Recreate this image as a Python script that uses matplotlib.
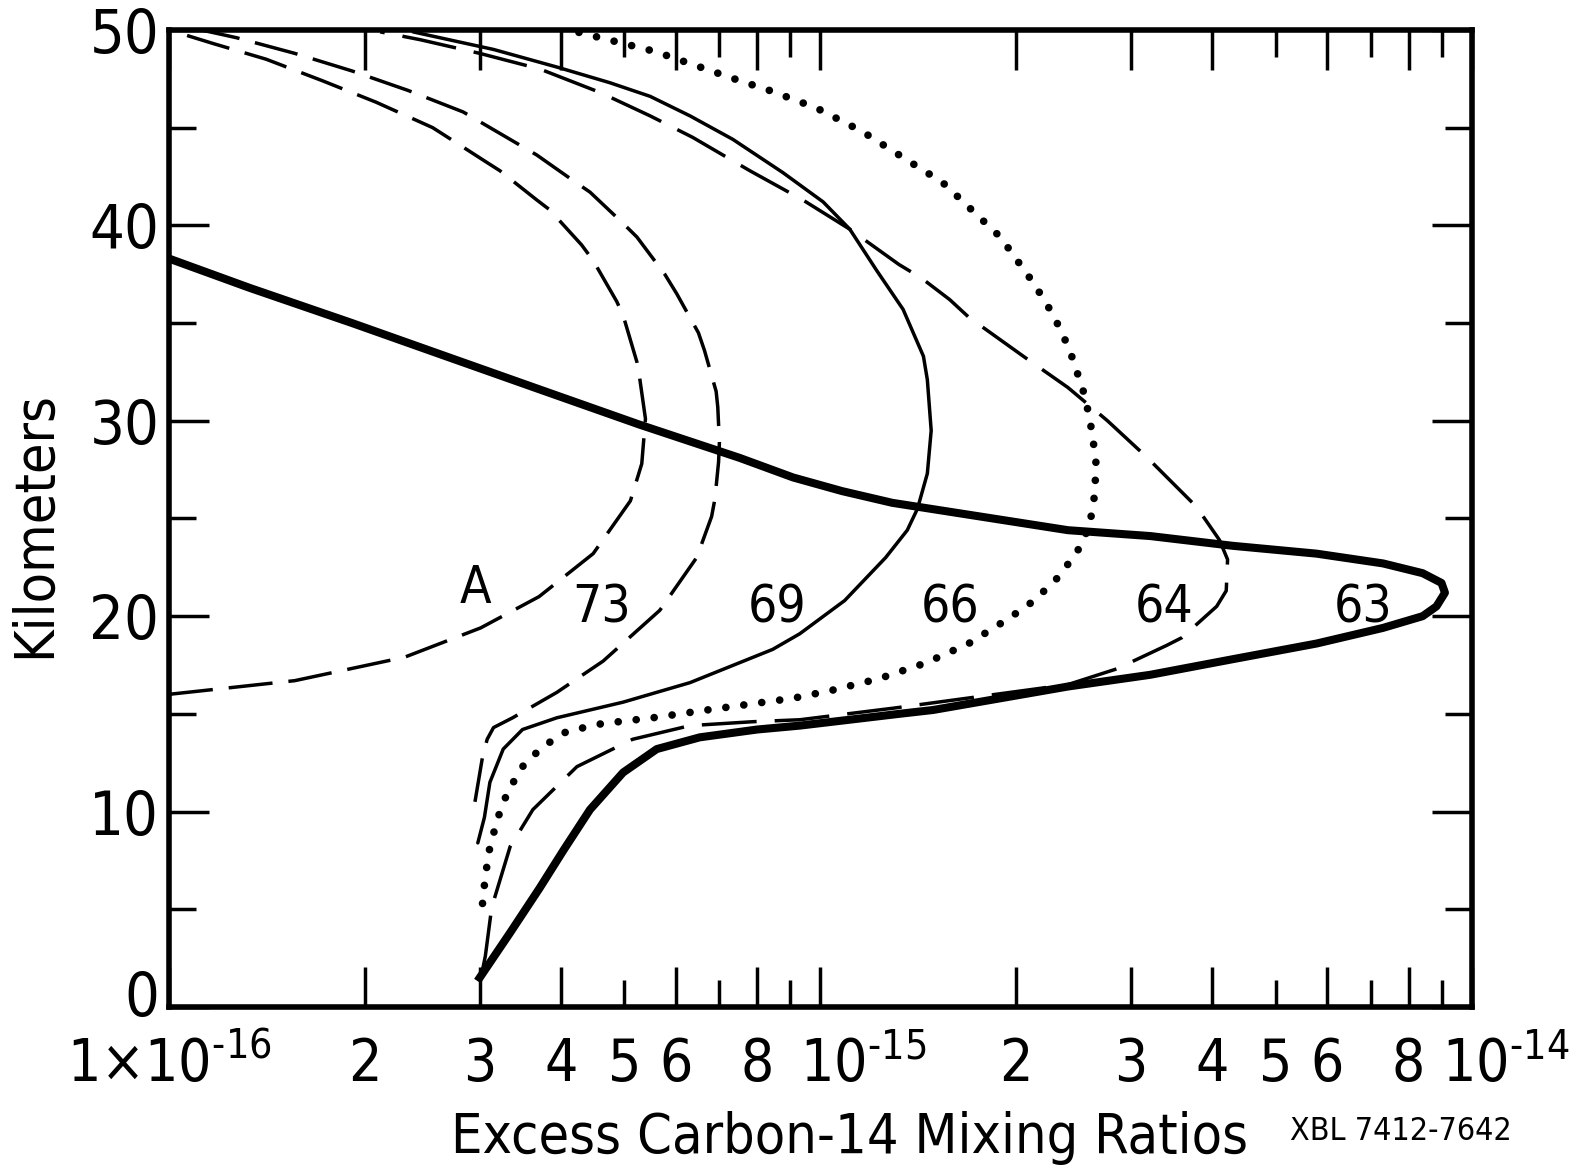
import matplotlib
matplotlib.use("Agg")
import matplotlib.pyplot as plt
import matplotlib.transforms as mtransforms
import numpy as np

plt.rcParams['font.family'] = ['DejaVu Sans']
plt.rcParams['font.stretch'] = 'condensed'
plt.rcParams['mathtext.fontset'] = 'custom'
plt.rcParams['mathtext.rm'] = 'DejaVu Sans:stretch=condensed'

# mixing ratios in units of 1e-16, altitude in km
x_a = [1.0, 1.56, 2.30, 3.01, 3.70, 4.48, 5.11, 5.32, 5.39, 5.28, 5.23, 4.98, 4.87, 4.48, 4.30, 3.84, 3.67, 3.22, 3.05,
       2.86, 2.54, 2.08, 1.72, 1.41, 1.17, 1.0]
km_a = [16.0, 16.7, 17.9, 19.4, 21.0, 23.2, 25.9, 27.8, 30.1, 32.2, 33.0, 35.4, 36.1, 38.2, 39.0, 40.8, 41.3, 42.8, 43.3,
        43.9, 45.0, 46.3, 47.4, 48.5, 49.3, 50.0]

x_73 = [2.95, 3.03, 3.08, 3.15, 3.37, 3.94, 4.64, 5.67, 6.46, 6.81, 6.89, 6.98, 7.0, 6.96, 6.92, 6.64, 6.5, 6.02, 5.77, 5.23,
        4.98, 4.43, 4.17, 3.67, 3.46, 2.83, 2.33, 1.91, 1.56, 1.27, 1.12]
km_73 = [10.5, 12.8, 13.7, 14.3, 14.8, 16.1, 17.7, 20.3, 23.0, 25.1, 26.0, 27.9, 28.9, 30.7, 31.5, 33.6, 34.5, 36.5, 37.5, 39.4,
         40.1, 41.7, 42.3, 43.6, 44.1, 45.8, 46.9, 47.9, 48.8, 49.6, 50.0]

x_69 = [2.98, 3.05, 3.11, 3.26, 3.49, 3.94, 4.98, 6.31, 8.45, 9.3, 10.9, 12.6, 13.6, 14.1, 14.6, 14.8, 14.6, 14.4, 13.4, 12.2,
        11.1, 10.1, 8.76, 7.34, 6.31, 5.48, 4.75, 3.94, 3.15, 2.37]
km_69 = [8.4, 9.7, 11.5, 13.2, 14.2, 14.8, 15.6, 16.6, 18.3, 19.1, 20.8, 23.0, 24.4, 25.5, 27.3, 29.5, 32.1, 33.3, 35.7, 37.7,
         39.8, 41.2, 42.7, 44.4, 45.6, 46.6, 47.3, 48.1, 49.0, 49.9]

x_66 = [3.03, 3.06, 3.11, 3.2, 3.31, 3.49, 3.74, 4.08, 4.62, 5.53, 6.70, 9.08, 10.4, 12.3, 14.5, 16.9, 19.5, 21.3, 23.2, 24.8,
        25.9, 26.4, 26.5, 25.9, 25.3, 24.1, 22.8, 21.3, 18.9, 16.1, 15.4, 13.8, 11.6, 9.87, 8.36, 7.52, 5.57, 4.23]
km_66 = [5.3, 6.7, 8.2, 9.7, 11.0, 12.3, 13.3, 14.1, 14.5, 14.8, 15.2, 15.8, 16.2, 16.8, 17.6, 18.6, 19.9, 20.8, 22.0, 23.3,
         24.6, 26.3, 28.0, 30.2, 31.6, 33.7, 35.4, 37.0, 39.4, 41.6, 42.2, 43.2, 44.8, 46.0, 46.9, 47.4, 48.9, 49.9]

x_64 = [3.03, 3.06, 3.13, 3.34, 3.62, 4.23, 5.15, 6.31, 7.88, 9.3, 13.0, 24.0, 28.5, 34.0, 35.9, 40.6, 42.0, 42.2, 41.0, 37.8,
        31.8, 27.6, 24.0, 20.5, 16.9, 15.8, 14.3, 13.2, 11.1, 9.4, 7.79, 6.37, 5.48, 4.59, 3.71, 3.0, 2.43, 2.11]
km_64 = [1.9, 2.6, 5.1, 8.2, 10.1, 12.3, 13.7, 14.4, 14.6, 14.7, 15.3, 16.5, 17.3, 18.5, 18.9, 20.5, 21.3, 22.9, 23.9, 25.6,
         28.1, 30.0, 31.7, 33.3, 35.3, 36.2, 37.3, 38.0, 39.8, 41.3, 42.8, 44.5, 45.6, 46.8, 48.0, 48.8, 49.5, 49.9]

x_63 = [3.0, 3.34, 3.71, 4.03, 4.43, 4.98, 5.61, 6.53, 8.0, 9.3, 13.2, 14.9, 24.0, 32.1, 43.0, 57.8, 73.1, 84.1, 88.3, 91.0,
        89.9, 84.1, 73.1, 57.8, 43.0, 32.1, 24.0, 17.6, 14.1, 12.9, 10.8, 9.08, 7.52, 5.28, 3.71, 2.61, 1.91, 1.33, 1.0]
km_63 = [1.5, 3.8, 6.1, 8.0, 10.1, 12.0, 13.2, 13.8, 14.2, 14.4, 15.0, 15.2, 16.4, 17.0, 17.8, 18.6, 19.4, 20.0, 20.5, 21.2,
         21.7, 22.2, 22.7, 23.2, 23.6, 24.1, 24.4, 25.1, 25.6, 25.8, 26.4, 27.1, 28.1, 29.8, 31.6, 33.4, 35.0, 36.8, 38.3]

curve_names = ['A', '73', '69', '66', '64', '63']
name_x = [2.95, 4.62, 8.58, 15.8, 33.7, 68.1]
name_km = [21.4, 20.4, 20.4, 20.4, 20.4, 20.4]

major_x = [1, 2, 3, 4, 6, 8, 10, 20, 30, 40, 60, 80, 100]
major_labels = [r'$1{\times}10^{\text{-}16}$', '2', '3', '4', '6', '8', r'$10^{\text{-}15}$',
                '2', '3', '4', '6', '8', r'$10^{\text{-}14}$']
minor_x = [5, 7, 9, 50, 70, 90]
minor_labels = ['5', '', '', '5', '', '']

E = 1e-16

fig = plt.figure(figsize=(15.79, 11.73), dpi=100)
ax = fig.add_axes([0.107, 0.1415, 0.825, 0.833])
ax.set_xscale('log')

lw_dash = 2.5
ax.plot(np.array(x_a) * E, km_a, color='black', lw=lw_dash, dashes=(12.7, 4.6))
ax.plot(np.array(x_73) * E, km_73, color='black', lw=lw_dash, dashes=(12.7, 4.6))
ax.plot(np.array(x_69) * E, km_69, color='black', lw=2.5, solid_capstyle='round', solid_joinstyle='round')
ax.plot(np.array(x_66) * E, km_66, color='black', lw=5.5, dashes=(0.01, 2.36), dash_capstyle='round')
ax.plot(np.array(x_64) * E, km_64, color='black', lw=lw_dash, dashes=(15.8, 5.2))
ax.plot(np.array(x_63) * E, km_63, color='black', lw=5.8, solid_joinstyle='round', zorder=5)

for name, xv, kv in zip(curve_names, name_x, name_km):
    ax.text(xv * E, kv, name, fontsize=37, ha='center', va='center')

ax.set_xlim(1e-16, 1e-14)
ax.set_ylim(0, 50)

ax.set_xticks(np.array(major_x) * E, major_labels)
ax.set_xticks(np.array(minor_x) * E, minor_labels, minor=True)
ax.set_yticks([0, 10, 20, 30, 40, 50])
ax.set_yticks([5, 15, 25, 35, 45], minor=True)

ax.tick_params(axis='both', which='both', direction='in', top=True, right=True, width=2.5)
ax.tick_params(axis='both', which='major', length=28.8)
ax.tick_params(axis='both', which='minor', length=19.4)
ax.tick_params(axis='x', which='both', pad=21, labelsize=42)
ax.tick_params(axis='y', which='both', pad=7, labelsize=44)

for s in ax.spines.values():
    s.set_linewidth(4)

# the "10" of each power-of-ten label sits on its tick, exponent hangs to the right
for lbl in ax.get_xticklabels():
    t = lbl.get_text()
    if t.startswith('$10'):
        lbl.set_ha('left')
        dx = -0.3 if '14' in t else -0.2
        off = mtransforms.ScaledTranslation(dx, 0.0, fig.dpi_scale_trans)
        lbl.set_transform(lbl.get_transform() + off)

# the bottom "0" is lettered a little above its tick
zero = ax.get_yticklabels()[0]
zero.set_transform(zero.get_transform() + mtransforms.ScaledTranslation(0, 0.14, fig.dpi_scale_trans))

fig.text(0.022, 0.553, 'Kilometers', rotation=90, fontsize=40, ha='center', va='center')
fig.text(0.538, 0.030, 'Excess Carbon-14 Mixing Ratios', fontsize=40, ha='center', va='center')
fig.text(0.887, 0.035, 'XBL 7412-7642', fontsize=23, ha='center', va='center')

fig.savefig('out.png', dpi=100)
